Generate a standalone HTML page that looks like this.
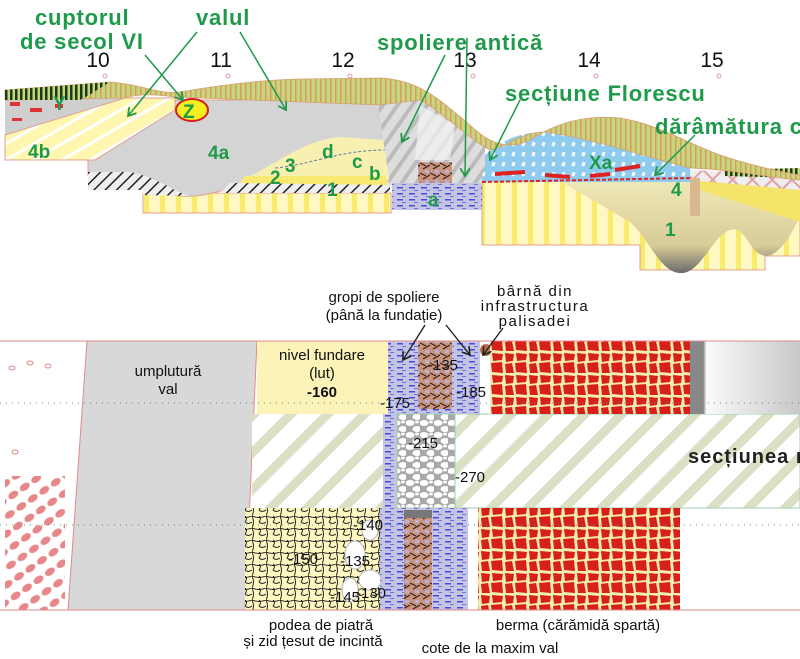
<!DOCTYPE html>
<html><head><meta charset="utf-8"><style>
html,body{margin:0;padding:0;background:#fff;}
svg{display:block;}
.g{font-family:"Liberation Sans",sans-serif;font-weight:bold;fill:#1f9a4a;}
.n{font-family:"Liberation Sans",sans-serif;fill:#111;}
</style></head><body>
<svg width="800" height="659" viewBox="0 0 800 659" xmlns="http://www.w3.org/2000/svg">
<defs>
<pattern id="vgreen" width="5" height="10" patternUnits="userSpaceOnUse"><rect width="5" height="10" fill="#c6d77a"/><rect width="1.5" height="10" fill="#d99a6a"/></pattern>
<pattern id="vdark" width="5" height="10" patternUnits="userSpaceOnUse"><rect width="5" height="10" fill="#c6d77a"/><rect width="2.5" height="10" fill="#1e3a1e"/></pattern>
<pattern id="ystripe" width="16" height="10" patternUnits="userSpaceOnUse"><rect width="16" height="10" fill="#fff8c0"/><rect width="5" height="10" fill="#f8ea6a"/></pattern>
<pattern id="ydiag" width="14" height="14" patternUnits="userSpaceOnUse" patternTransform="rotate(-30)"><rect width="14" height="14" fill="#fff6b0"/><rect width="14" height="3" fill="#fff"/></pattern>
<pattern id="blkdiag" width="8" height="8" patternUnits="userSpaceOnUse" patternTransform="rotate(45)"><rect width="8" height="8" fill="#eee"/><rect width="1.5" height="8" fill="#222"/></pattern>
<pattern id="grydiag" width="12" height="12" patternUnits="userSpaceOnUse" patternTransform="rotate(35)"><rect width="12" height="12" fill="#ddd"/><rect width="4" height="12" fill="#bbb"/></pattern>
<pattern id="bluep" width="12" height="6" patternUnits="userSpaceOnUse"><rect width="12" height="6" fill="#c4c4e4"/><rect x="1" y="1" width="6" height="1.5" fill="#4a4ad8"/><rect x="6" y="4" width="4" height="1" fill="#7070e0"/></pattern>
<pattern id="lblue" width="10" height="10" patternUnits="userSpaceOnUse"><rect width="10" height="10" fill="#8ecbef"/><rect x="2" y="2" width="3" height="4" fill="#fff" transform="rotate(20 3 4)"/></pattern>
<pattern id="brown" width="10" height="10" patternUnits="userSpaceOnUse"><rect width="10" height="10" fill="#c9957e"/><path d="M0 3 L6 6 M3 9 L10 5" stroke="#3a2018" stroke-width="1.2"/><rect x="5" y="0" width="4" height="3" fill="#b8b0d8"/></pattern>
<pattern id="brick" width="24" height="22" patternUnits="userSpaceOnUse"><rect width="24" height="22" fill="#f3ecb0"/><path d="M1 1 L10 2 L9 9 L2 10 Z M12 1 L23 2 L22 8 L13 9 Z M1 12 L8 11 L10 21 L2 21 Z M11 11 L22 10 L23 21 L12 20 Z" fill="#d8201a"/></pattern>
<pattern id="gravel" width="14" height="12" patternUnits="userSpaceOnUse"><rect width="14" height="12" fill="#a8a8a8"/><ellipse cx="4" cy="3" rx="4.5" ry="3" fill="#fff"/><ellipse cx="11" cy="9" rx="4.5" ry="3" fill="#fff"/><ellipse cx="11" cy="2" rx="2" ry="1.5" fill="#fff"/></pattern>
<pattern id="cobble" width="14" height="12" patternUnits="userSpaceOnUse"><rect width="14" height="12" fill="#fff8c0"/><path d="M0 0 q7 3 14 0 M0 12 q3-6 0-12 M7 6 q3 -4 0 -6 M7 6 q3 3 7 0" stroke="#222" fill="none" stroke-width="1"/></pattern>
<pattern id="pinkov" width="14" height="14" patternUnits="userSpaceOnUse" patternTransform="rotate(-35)"><rect width="14" height="14" fill="#fff"/><ellipse cx="7" cy="7" rx="5.5" ry="3.5" fill="#e8878a"/></pattern>
<pattern id="gdiag" width="26" height="26" patternUnits="userSpaceOnUse" patternTransform="rotate(45)"><rect width="26" height="26" fill="#fff"/><rect width="9" height="26" fill="#dbe0c4"/></pattern>
<pattern id="pinkx" width="14" height="14" patternUnits="userSpaceOnUse" patternTransform="rotate(45)"><rect width="14" height="14" fill="#eee"/><rect width="2" height="14" fill="#e4a0a0"/><rect width="14" height="2" fill="#e4a0a0"/></pattern>
<linearGradient id="khaki" x1="0" y1="0" x2="0" y2="1"><stop offset="0" stop-color="#efe8b8"/><stop offset=".7" stop-color="#d8cc98"/><stop offset="1" stop-color="#6a6a6a"/></linearGradient>
<linearGradient id="grayg" x1="0" y1="0" x2="1" y2="0"><stop offset="0" stop-color="#888"/><stop offset=".12" stop-color="#888"/><stop offset=".15" stop-color="#fafafa"/><stop offset="1" stop-color="#c8c8c8"/></linearGradient>
<marker id="ag" markerWidth="10" markerHeight="10" refX="8" refY="5" orient="auto" markerUnits="userSpaceOnUse"><path d="M0 0 L8 5 L0 10" fill="none" stroke="#1f9a4a" stroke-width="1.8"/></marker>
<marker id="ak" markerWidth="10" markerHeight="10" refX="8" refY="5" orient="auto" markerUnits="userSpaceOnUse"><path d="M0 0 L8 5 L0 10" fill="none" stroke="#222" stroke-width="1.6"/></marker>
</defs>

<!-- TOP SECTION -->
<rect x="143" y="193" width="248" height="20" fill="url(#ystripe)" stroke="#e0a090"/>
<path d="M482 180 L800 180 L800 256 L765 256 L765 270 L700 270 L700 270 L640 270 L640 245 L482 245 Z" fill="url(#ystripe)" stroke="#e0a090"/>
<path d="M560 181 L800 181 L800 215 C790 240 775 260 762 255 C748 250 745 225 730 230 C712 236 700 275 680 273 C660 272 650 240 630 222 Z" fill="url(#khaki)"/>
<path d="M690 180 L800 190 L800 222 L700 190 Z" fill="#f4e46a"/>
<path d="M690 170 L800 175 L800 190 L690 180 Z" fill="url(#pinkx)"/>
<path d="M725 170 L800 168 L800 178 L725 176 Z" fill="url(#vdark)"/>
<rect x="690" y="178" width="10" height="38" fill="#d8b890"/>
<path d="M480 160 C500 140 520 132 545 132 C590 138 640 155 690 168 L690 182 L482 182 Z" fill="url(#lblue)"/>
<path d="M88 160 L170 100 L380 100 L390 185 L250 185 C220 188 210 198 180 196 C150 194 140 180 88 175 Z" fill="#d4d4d4" stroke="#e0a090"/>
<path d="M88 172 L130 172 C160 178 175 193 190 196 L143 195 L143 190 L88 190 Z" fill="url(#blkdiag)"/>
<path d="M230 183 L390 183 L390 193 L220 193 Z" fill="url(#blkdiag)"/>
<path d="M240 180 C270 170 300 140 340 137 L385 140 L390 180 Z" fill="#f8f0b0"/>
<path d="M245 176 L385 176 L388 185 L240 183 Z" fill="#f8ea70"/>
<path d="M275 168 C310 165 340 150 385 150" fill="none" stroke="#5a7aa0" stroke-dasharray="3 2"/>
<path d="M5 100 L125 98 L5 135 Z" fill="#cfcfcf"/>
<rect x="10" y="102" width="10" height="4" fill="#d33"/><rect x="30" y="108" width="12" height="4" fill="#d33"/><rect x="55" y="104" width="8" height="4" fill="#d33"/><rect x="12" y="118" width="10" height="3" fill="#d33"/>
<path d="M5 135 L125 98 L175 98 L175 110 L95 160 L5 160 Z" fill="url(#ydiag)" stroke="#e0a090"/>
<path d="M378 105 L420 100 C440 110 460 125 485 145 L485 165 L480 185 L390 185 Z" fill="url(#grydiag)"/>
<path d="M420 105 L455 125 L450 160 L415 160 Z" fill="#f4f4f4" opacity=".7"/>
<rect x="418" y="162" width="34" height="22" fill="url(#brown)"/>
<rect x="392" y="183" width="90" height="27" fill="url(#bluep)"/>
<path d="M482 182 L690 178" stroke="#d22" stroke-width="2" stroke-dasharray="4 2" fill="none"/>
<path d="M495 174 L525 172 M545 175 L570 177 M590 176 L610 174 M615 170 L640 166" stroke="#d22" stroke-width="4" fill="none"/>
<path d="M5 90 L110 82 C140 84 160 95 180 92 C220 85 260 80 300 79 L380 78 C420 80 440 100 470 125 C490 145 510 150 530 140 C560 120 590 115 620 118 C660 125 680 140 720 155 C750 165 780 172 800 175 L800 180 C770 178 740 170 690 168 C640 155 590 138 545 132 C520 132 505 148 490 150 C470 140 440 110 420 100 L380 105 L175 97 C160 95 140 93 125 98 L5 100 Z" fill="url(#vgreen)" stroke="#d8a070" stroke-width="0.8"/>
<path d="M5 90 L110 82 C100 88 90 95 80 100 L5 100 Z" fill="url(#vdark)"/>
<ellipse cx="192" cy="110" rx="16" ry="11" fill="#f7ee20" stroke="#d02020" stroke-width="2"/>
<g fill="none" stroke="#e0a0a0"><circle cx="105" cy="76" r="2"/><circle cx="228" cy="76" r="2"/><circle cx="350" cy="76" r="2"/><circle cx="473" cy="76" r="2"/><circle cx="596" cy="76" r="2"/><circle cx="719" cy="76" r="2"/></g>
<g class="n" font-size="21" text-anchor="middle"><text x="98" y="67">10</text><text x="221" y="67">11</text><text x="343" y="67">12</text><text x="465" y="67">13</text><text x="589" y="67">14</text><text x="712" y="67">15</text></g>
<g class="g" font-size="22" letter-spacing="0.8">
<text x="35" y="25">cuptorul</text><text x="20" y="49">de secol VI</text>
<text x="196" y="25">valul</text>
<text x="377" y="50">spoliere antică</text>
<text x="505" y="101">secțiune Florescu</text>
<text x="655" y="134">dărâmătura c</text>
</g>
<g class="g" font-size="19">
<text x="183" y="118">Z</text><text x="28" y="158">4b</text><text x="208" y="159">4a</text>
<text x="322" y="158">d</text><text x="352" y="168">c</text><text x="369" y="180">b</text>
<text x="285" y="172">3</text><text x="270" y="184">2</text><text x="327" y="196">1</text>
<text x="53" y="110">Y</text><text x="428" y="206">a</text><text x="589" y="169">Xa</text>
<text x="671" y="196">4</text><text x="665" y="236">1</text>
</g>
<g stroke="#1f9a4a" stroke-width="1.5" fill="none" marker-end="url(#ag)">
<line x1="145" y1="55" x2="183" y2="100"/>
<line x1="197" y1="32" x2="128" y2="116"/>
<line x1="240" y1="32" x2="286" y2="110"/>
<line x1="445" y1="55" x2="402" y2="142"/>
<line x1="467" y1="38" x2="465" y2="176"/>
<line x1="520" y1="100" x2="490" y2="160"/>
<line x1="695" y1="135" x2="655" y2="175"/>
</g>

<!-- BOTTOM SECTION -->
<rect x="0" y="341" width="800" height="269" fill="#fff"/>
<polygon points="5,476 65,476 65,610 5,610" fill="url(#pinkov)"/>
<g fill="none" stroke="#e08a8a"><ellipse cx="12" cy="368" rx="3" ry="2"/><ellipse cx="30" cy="363" rx="3" ry="2"/><ellipse cx="48" cy="366" rx="3" ry="2"/><ellipse cx="15" cy="452" rx="3" ry="2"/></g>
<polygon points="87,341 257,341 245,610 68,610" fill="#d8d8d8" stroke="#e08a8a"/>
<rect x="257" y="341" width="133" height="73" fill="#fbf3b8"/>
<rect x="252" y="414" width="548" height="94" fill="url(#gdiag)"/>
<rect x="455" y="414" width="345" height="94" fill="url(#gdiag)" stroke="#9ad0b0"/>
<rect x="245" y="508" width="140" height="102" fill="url(#cobble)"/>
<g fill="#fff" stroke="#bbb"><ellipse cx="355" cy="555" rx="10" ry="14"/><ellipse cx="370" cy="580" rx="11" ry="10"/><ellipse cx="350" cy="590" rx="8" ry="12"/><ellipse cx="370" cy="530" rx="8" ry="10"/></g>
<rect x="388" y="341" width="92" height="73" fill="url(#bluep)"/>
<rect x="383" y="414" width="20" height="94" fill="url(#bluep)"/>
<rect x="397" y="414" width="58" height="94" fill="url(#gravel)" stroke="#9ad0b0"/>
<rect x="380" y="508" width="88" height="102" fill="url(#bluep)"/>
<rect x="418" y="341" width="34" height="68" rx="3" fill="url(#brown)"/>
<rect x="404" y="510" width="28" height="100" rx="3" fill="url(#brown)"/>
<rect x="404" y="510" width="28" height="8" fill="#777"/>
<circle cx="486" cy="350" r="6" fill="#b8704a"/>
<rect x="490" y="341" width="200" height="73" fill="url(#brick)"/>
<rect x="690" y="341" width="110" height="73" fill="url(#grayg)"/>
<rect x="478" y="508" width="202" height="102" fill="url(#brick)"/>
<line x1="0" y1="341" x2="800" y2="341" stroke="#e08a8a"/>
<line x1="0" y1="610" x2="800" y2="610" stroke="#e08a8a"/>
<line x1="0" y1="403" x2="800" y2="403" stroke="#4aa080" stroke-dasharray="1 5"/>
<line x1="0" y1="525" x2="800" y2="525" stroke="#4aa080" stroke-dasharray="1 5"/>
<g class="n" font-size="15" text-anchor="middle">
<text x="168" y="376">umplutură</text><text x="168" y="394">val</text>
<text x="322" y="360">nivel fundare</text><text x="322" y="378">(lut)</text><text x="322" y="397" font-weight="bold">-160</text>
<text x="384" y="302">gropi de spoliere</text><text x="384" y="320">(până la fundație)</text>
<text x="535" y="296" letter-spacing="1.5">bârnă din</text><text x="535" y="311" letter-spacing="1.5">infrastructura</text><text x="535" y="326" letter-spacing="1.5">palisadei</text>
<text x="321" y="630">podea de piatră</text><text x="313" y="646">și zid țesut de incintă</text>
<text x="578" y="630">berma (cărămidă spartă)</text>
<text x="490" y="653">cote de la maxim val</text>
</g>
<g class="n" font-size="15">
<text x="428" y="370">-135</text><text x="456" y="397">-185</text><text x="380" y="408">-175</text>
<text x="408" y="448">-215</text><text x="455" y="482">-270</text>
<text x="353" y="530">-140</text><text x="288" y="564">-150</text><text x="340" y="566">-135</text><text x="330" y="602">-145</text><text x="356" y="598">-130</text>
</g>
<text x="688" y="463" font-family="Liberation Sans,sans-serif" font-weight="bold" font-size="20" fill="#222" letter-spacing="1">secțiunea r</text>
<g stroke="#222" stroke-width="1.4" fill="none" marker-end="url(#ak)">
<line x1="425" y1="325" x2="403" y2="360"/>
<line x1="446" y1="325" x2="470" y2="355"/>
<line x1="503" y1="328" x2="483" y2="355"/>
</g>
</svg>
</body></html>
